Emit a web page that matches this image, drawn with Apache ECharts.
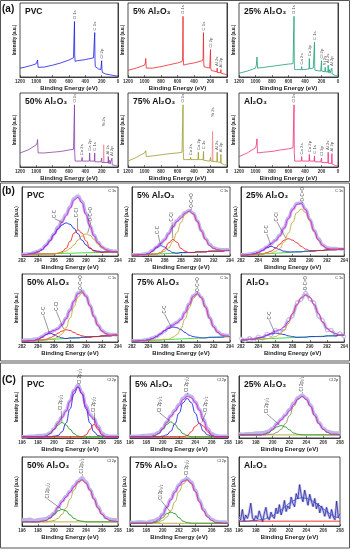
<!DOCTYPE html>
<html><head><meta charset="utf-8">
<script src="https://cdn.jsdelivr.net/npm/echarts@6/dist/echarts.min.js"></script>
<style>html,body{margin:0;padding:0;background:#fff}#chart{width:351px;height:550px}</style>
</head><body><div id="chart"></div>
<script>
// ---------- tick labels ----------
const SURVEY_TICKS = [1200, 1000, 800, 600, 400, 200, 0];
const C1S_TICKS = [282, 284, 286, 288, 290, 292, 294];
const CL2P_TICKS = [196, 198, 200, 202, 204, 206, 208];

// ---------- survey spectra [eV, intensity] ----------
const surveyPVC = [[1200,.12],[1150,.13],[1100,.145],[1050,.16],[1000,.18],[990,.20],[985,.23],[978,.13],[970,.12],[900,.135],[800,.16],[700,.19],[600,.23],[545,.26],[538,.28],[533,.75],[530,.30],[525,.21],[500,.22],[400,.235],[300,.26],[290,.28],[285,.60],[282,.24],[278,.14],[260,.12],[240,.11],[210,.10],[203,.12],[200,.22],[197,.10],[190,.06],[150,.04],[100,.03],[50,.02],[0,.01]];
const survey5 = [[1200,.09],[1100,.12],[1000,.16],[990,.19],[985,.25],[978,.12],[970,.11],[900,.12],[800,.14],[700,.165],[600,.19],[545,.21],[538,.24],[533,.82],[530,.26],[525,.16],[500,.17],[400,.19],[300,.22],[290,.25],[285,.60],[282,.20],[278,.14],[250,.13],[210,.12],[203,.14],[200,.37],[197,.12],[190,.09],[160,.08],[155,.10],[150,.07],[122,.07],[119,.12],[116,.06],[77,.06],[74,.10],[71,.05],[30,.04],[0,.03]];
const survey25 = [[1200,.05],[1100,.08],[1000,.12],[990,.16],[982,.27],[975,.12],[970,.12],[900,.13],[800,.145],[700,.16],[600,.175],[545,.18],[538,.20],[533,.82],[530,.20],[525,.10],[500,.10],[445,.10],[440,.14],[436,.10],[400,.10],[352,.11],[347,.25],[343,.11],[300,.12],[290,.13],[285,.47],[282,.13],[278,.09],[210,.08],[203,.10],[200,.22],[197,.08],[160,.07],[155,.13],[150,.07],[122,.07],[119,.16],[116,.06],[104,.06],[101,.10],[98,.05],[77,.05],[74,.12],[71,.04],[30,.02],[0,.01]];
const survey50 = [[1200,.19],[1100,.23],[1000,.30],[990,.33],[985,.37],[978,.19],[970,.18],[900,.19],[800,.20],[700,.21],[600,.23],[545,.24],[538,.26],[533,.84],[530,.20],[525,.08],[500,.08],[445,.08],[440,.13],[436,.08],[352,.08],[347,.19],[343,.08],[290,.08],[285,.19],[282,.07],[210,.07],[203,.08],[200,.12],[197,.06],[180,.06],[122,.06],[119,.14],[116,.05],[104,.05],[101,.09],[98,.04],[77,.05],[74,.12],[71,.03],[30,.02],[0,.01]];
const pinkPeak50 = [[180,.06],[175,.30],[170,.06]];
const survey75 = [[1200,.08],[1100,.13],[1000,.19],[990,.21],[985,.22],[978,.14],[970,.14],[900,.15],[800,.165],[700,.18],[600,.19],[545,.20],[538,.22],[533,.84],[530,.20],[525,.10],[500,.10],[445,.10],[440,.13],[436,.10],[352,.10],[347,.20],[343,.10],[290,.10],[285,.21],[282,.09],[210,.08],[203,.09],[200,.13],[197,.08],[180,.08],[122,.07],[119,.20],[116,.07],[77,.06],[74,.17],[71,.05],[30,.03],[0,.02]];
const pinkPeak75 = [[180,.08],[175,.48],[170,.08]];
const surveyAl = [[1200,.14],[1100,.19],[1000,.26],[990,.30],[982,.38],[976,.19],[970,.19],[900,.20],[800,.21],[700,.23],[600,.245],[545,.26],[538,.28],[533,.84],[530,.20],[525,.08],[500,.08],[445,.08],[440,.14],[436,.08],[352,.08],[347,.17],[343,.08],[290,.08],[285,.15],[282,.07],[210,.07],[203,.07],[200,.12],[197,.06],[122,.06],[119,.20],[116,.05],[77,.05],[74,.18],[71,.04],[30,.02],[0,.01]];

// survey peak labels [text, eV, intensity]
const peaksPVC = [['O 1s',533,.78],['C 1s',285,.63],['Cl 2p',200,.25]];
const peaks5 = [['O 1s',533,.85],['C 1s',285,.63],['Cl 2p',200,.40],['Al 2s',119,.15],['Al 2p',74,.13]];
const peaks25 = [['O 1s',533,.85],['Ca 2s',440,.17],['Ca 2p',347,.28],['C 1s',285,.50],['Cl 2p',200,.25],['Si 2s',155,.16],['Al 2s',119,.19],['Al 2p',74,.15]];
const peaks50 = [['O 1s',533,.87],['Ca 2s',440,.16],['Ca 2p',347,.22],['C 1s',285,.22],['Si 2s',175,.55],['Al 2s',119,.17],['Al 2p',74,.15]];
const peaks75 = [['O 1s',533,.87],['Ca 2s',440,.16],['Ca 2p',347,.23],['C 1s',285,.24],['Si 2s',175,.68],['Al 2s',119,.23],['Al 2p',74,.20]];
const peaksAl = [['O 1s',533,.87],['Ca 2s',440,.17],['Ca 2p',347,.20],['C 1s',285,.18],['Cl 2p',200,.15],['Al 2s',119,.23],['Al 2p',74,.21]];

// ---------- C 1s high resolution ----------
const X_C1S = [282,282.5,283,283.5,284,284.5,285,285.5,286,286.5,287,287.5,288,288.5,289,289.5,290,290.5,291,291.5,292,292.5,293,293.5,294];
const c1PVC_raw = [.02,.03,.03,.05,.07,.10,.16,.23,.32,.42,.51,.60,.71,.83,.87,.79,.62,.44,.30,.20,.13,.10,.08,.07,.07];
const c1PVC_fit = [.02,.02,.03,.04,.06,.09,.15,.22,.31,.40,.49,.58,.69,.81,.85,.77,.60,.43,.29,.19,.13,.09,.07,.06,.06];
const c1PVC_CC  = [.02,.02,.03,.04,.06,.09,.15,.22,.31,.39,.45,.48,.46,.40,.32,.23,.16,.11,.08,.07,.06,.06,.06,.06,.06];
const c1PVC_CCl = [.02,.02,.02,.03,.03,.03,.03,.03,.03,.04,.06,.11,.21,.33,.38,.33,.22,.12,.07,.06,.05,.06,.06,.06,.06];
const c1PVC_OCO = [.02,.02,.02,.03,.03,.03,.03,.03,.03,.04,.05,.07,.11,.16,.23,.29,.32,.30,.24,.17,.12,.09,.07,.06,.06];
const c1PVC_bg = [[282,.02],[294,.06]];
const c1PVC_lab = [['C-C',286.1,.55,287.3,.47],['C-Cl',288.9,.56,288.9,.39],['O-C=O',290.6,.50,290.2,.33]];

const c15_raw = [.02,.02,.02,.03,.04,.08,.13,.18,.24,.33,.43,.51,.57,.63,.66,.62,.51,.37,.25,.17,.12,.10,.09,.09,.09];
const c15_fit = [.01,.01,.02,.02,.03,.07,.13,.18,.23,.32,.42,.50,.55,.62,.65,.61,.50,.36,.24,.15,.11,.09,.08,.08,.08];
const c15_CC  = [.01,.01,.02,.02,.03,.07,.12,.15,.13,.08,.05,.04,.05,.05,.05,.05,.06,.06,.06,.07,.07,.07,.07,.08,.08];
const c15_CCl = [.01,.01,.02,.02,.02,.03,.03,.05,.10,.19,.24,.20,.11,.07,.05,.05,.06,.06,.06,.07,.07,.07,.07,.08,.08];
const c15_OCO = [.01,.01,.02,.02,.02,.03,.03,.04,.07,.12,.21,.34,.49,.60,.65,.61,.50,.36,.24,.15,.11,.09,.08,.08,.08];
const c15_bg = [[282,.01],[294,.08]];
const c15_lab = [['C-C',285.2,.32,285.5,.16],['C-Cl',286.9,.50,287.0,.25],['O-C=O',289.3,.70,289.2,.66]];

const c125_raw = [.02,.02,.03,.04,.06,.09,.13,.18,.23,.30,.41,.55,.68,.76,.77,.68,.53,.37,.25,.16,.12,.11,.11,.10,.10];
const c125_fit = [.01,.01,.02,.03,.05,.08,.13,.18,.22,.29,.40,.54,.67,.75,.76,.67,.52,.36,.23,.15,.11,.10,.10,.10,.10];
const c125_CC  = [.01,.01,.02,.03,.05,.08,.12,.14,.12,.09,.07,.06,.06,.06,.06,.07,.07,.07,.08,.08,.09,.09,.09,.10,.10];
const c125_CCl = [.01,.01,.02,.02,.03,.03,.05,.07,.11,.17,.23,.25,.23,.19,.14,.10,.08,.08,.08,.08,.09,.09,.09,.10,.10];
const c125_OCO = [.01,.01,.02,.02,.03,.03,.04,.04,.07,.11,.20,.33,.49,.63,.68,.63,.51,.35,.23,.15,.11,.10,.10,.10,.10];
const c125_bg = [[282,.01],[294,.10]];
const c125_lab = [['C-C',285.0,.33,285.5,.15],['C-Cl',286.2,.50,287.2,.26],['O-C=O',289.2,.79,289.1,.77]];

const c150_raw = [.02,.03,.03,.04,.05,.08,.12,.14,.17,.20,.26,.35,.47,.60,.72,.75,.68,.54,.38,.25,.17,.13,.11,.11,.10];
const c150_fit = [.01,.01,.02,.02,.04,.07,.11,.15,.17,.19,.25,.34,.46,.60,.71,.74,.67,.53,.37,.24,.16,.12,.10,.10,.10];
const c150_CC  = [.01,.01,.02,.02,.04,.07,.11,.13,.11,.08,.06,.05,.06,.06,.06,.07,.07,.07,.08,.08,.09,.09,.09,.10,.10];
const c150_CCl = [.01,.01,.02,.02,.03,.03,.04,.06,.09,.13,.16,.18,.17,.14,.11,.09,.08,.08,.08,.08,.09,.09,.09,.10,.10];
const c150_OCO = [.01,.01,.02,.02,.03,.03,.03,.04,.05,.07,.12,.21,.35,.52,.66,.72,.67,.53,.37,.24,.16,.12,.10,.10,.10];
const c150_bg = [[282,.01],[294,.10]];
const c150_lab = [['C-C',284.7,.40,285.4,.14],['C-Cl',286.3,.46,287.2,.19],['O-C=O',289.4,.77,289.4,.75]];

const c175_raw = [.02,.02,.02,.03,.04,.06,.08,.12,.16,.22,.25,.29,.34,.44,.56,.68,.72,.66,.52,.36,.23,.15,.11,.10,.09];
const c175_fit = [.01,.01,.02,.02,.03,.05,.08,.12,.17,.21,.25,.28,.33,.43,.55,.67,.71,.65,.51,.35,.22,.14,.10,.09,.08];
const c175_CC  = [.01,.01,.02,.02,.03,.05,.08,.12,.17,.20,.22,.21,.18,.14,.10,.08,.07,.06,.06,.07,.07,.07,.07,.08,.08];
const c175_OCO = [.01,.01,.02,.02,.02,.03,.03,.03,.04,.04,.07,.11,.20,.34,.50,.64,.70,.65,.51,.35,.22,.14,.10,.08,.08];
const c175_bg = [[282,.01],[294,.08]];
const c175_lab = [['C-C',286.0,.42,286.8,.22],['O-C=O',290.0,.74,290.0,.72]];

const c1Al_raw = [.05,.02,.06,.03,.08,.05,.12,.10,.18,.15,.20,.33,.38,.58,.62,.73,.63,.58,.38,.32,.17,.18,.10,.13,.08];
const c1Al_fit = [.03,.03,.04,.04,.06,.07,.10,.13,.16,.18,.22,.30,.42,.55,.65,.69,.66,.55,.42,.29,.20,.15,.12,.10,.10];
const c1Al_CC  = [.03,.03,.04,.04,.06,.07,.10,.12,.13,.12,.11,.09,.08,.07,.07,.07,.08,.08,.08,.08,.09,.09,.09,.10,.10];
const c1Al_OCO = [.03,.03,.04,.04,.04,.04,.05,.06,.08,.11,.17,.27,.40,.54,.65,.69,.66,.55,.42,.29,.20,.15,.12,.10,.10];
const c1Al_bg = [[282,.03],[294,.10]];
const c1Al_lab = [['C-C',285.3,.33,285.9,.14],['O-C=O',289.5,.76,289.5,.74]];

// ---------- Cl 2p high resolution ----------
const X_CL2P = [196,196.5,197,197.5,198,198.5,199,199.5,200,200.5,201,201.5,202,202.5,203,203.5,204,204.5,205,205.5,206,206.5,207,207.5,208];
const clPVC_raw   = [.02,.02,.03,.03,.04,.04,.05,.08,.15,.25,.34,.44,.60,.77,.85,.74,.52,.38,.31,.19,.08,.04,.03,.03,.03];
const clPVC_fit   = [.02,.02,.02,.02,.02,.02,.03,.07,.14,.24,.33,.43,.59,.76,.83,.72,.50,.36,.30,.17,.05,.02,.02,.02,.02];
const clPVC_blue  = [.02,.02,.02,.02,.02,.02,.02,.02,.03,.04,.10,.24,.47,.71,.82,.71,.47,.24,.10,.04,.03,.02,.02,.02,.02];
const clPVC_green = [.02,.02,.02,.02,.02,.02,.03,.07,.14,.21,.25,.21,.14,.07,.03,.02,.02,.02,.02,.02,.02,.02,.02,.02,.02];
const clPVC_red   = [.02,.02,.02,.02,.02,.02,.02,.02,.02,.02,.02,.02,.02,.02,.02,.02,.05,.14,.22,.14,.05,.02,.02,.02,.02];
const clPVC_bg = [[196,.02],[208,.02]];
const clPVC_lab = [['Cl 2p₃/₂',200.9,.45,201.0,.26],['Cl 2p₃/₂',203.2,.87,203.1,.85],['Cl 2p₁/₂',205.0,.42,205.0,.23]];

const cl5_raw   = [.03,.03,.03,.04,.04,.05,.06,.09,.16,.26,.36,.45,.54,.64,.70,.67,.58,.46,.30,.15,.07,.04,.03,.03,.03];
const cl5_fit   = [.02,.02,.02,.02,.02,.02,.04,.07,.15,.25,.35,.43,.52,.62,.67,.65,.57,.45,.28,.13,.05,.02,.02,.02,.02];
const cl5_blue  = [.02,.02,.02,.02,.02,.02,.02,.02,.03,.05,.11,.23,.40,.57,.64,.57,.40,.23,.11,.05,.03,.02,.02,.02,.02];
const cl5_green = [.02,.02,.02,.02,.02,.02,.04,.07,.14,.22,.26,.22,.14,.07,.04,.02,.02,.02,.02,.02,.02,.02,.02,.02,.02];
const cl5_red   = [.02,.02,.02,.02,.02,.02,.02,.02,.02,.02,.02,.02,.02,.02,.04,.10,.19,.24,.19,.10,.04,.02,.02,.02,.02];
const cl5_bg = [[196,.02],[208,.02]];
const cl5_lab = [['Cl 2p₃/₂',199.6,.42,200.9,.27],['Cl 2p₁/₂',203.0,.74,203.0,.71],['Cl 2p₃/₂',205.3,.42,204.8,.25]];

const cl25_raw   = [.07,.06,.07,.07,.08,.08,.09,.11,.16,.23,.30,.37,.46,.56,.65,.69,.64,.53,.38,.25,.16,.11,.09,.08,.08];
const cl25_fit   = [.05,.05,.05,.05,.05,.05,.06,.09,.14,.22,.29,.36,.44,.54,.63,.67,.62,.51,.36,.23,.14,.09,.06,.06,.05];
const cl25_main  = [.05,.05,.05,.05,.05,.05,.05,.06,.06,.09,.14,.23,.36,.51,.62,.67,.62,.51,.36,.23,.14,.09,.06,.06,.05];
const cl25_green = [.05,.05,.05,.05,.05,.05,.06,.08,.13,.18,.20,.18,.13,.08,.06,.05,.05,.05,.05,.05,.05,.05,.05,.05,.05];
const cl25_bg = [[196,.05],[208,.05]];
const cl25_lab = [['Cl 2p₃/₂',199.3,.40,200.8,.21],['Cl 2p₁/₂',203.5,.75,203.5,.72]];

const cl50_raw   = [.10,.09,.10,.08,.09,.10,.11,.14,.19,.27,.36,.43,.50,.58,.65,.70,.64,.53,.40,.28,.18,.12,.10,.09,.09];
const cl50_fit   = [.06,.06,.06,.06,.06,.07,.08,.12,.18,.27,.35,.42,.49,.57,.64,.67,.62,.52,.39,.26,.17,.11,.08,.07,.06];
const cl50_main  = [.06,.06,.06,.06,.06,.06,.06,.07,.08,.11,.17,.26,.39,.52,.62,.66,.62,.52,.39,.26,.17,.11,.08,.07,.06];
const cl50_green = [.06,.06,.06,.06,.06,.07,.08,.11,.16,.22,.24,.22,.16,.11,.08,.07,.06,.06,.06,.06,.06,.06,.06,.06,.06];
const cl50_bg = [[196,.06],[208,.06]];
const cl50_lab = [['Cl 2p₃/₂',199.2,.40,200.9,.25],['Cl 2p₁/₂',203.5,.76,203.5,.73]];

const cl75_raw   = [.06,.05,.06,.06,.05,.07,.08,.11,.17,.28,.39,.50,.60,.66,.69,.64,.52,.37,.24,.15,.10,.07,.06,.06,.05];
const cl75_fit   = [.04,.04,.04,.04,.04,.04,.06,.09,.16,.27,.38,.49,.58,.65,.67,.62,.50,.35,.22,.13,.08,.05,.05,.04,.04];
const cl75_main  = [.04,.04,.04,.04,.04,.04,.05,.05,.08,.13,.22,.35,.50,.61,.66,.61,.50,.35,.22,.13,.08,.05,.05,.04,.04];
const cl75_green = [.04,.04,.04,.04,.04,.04,.05,.07,.12,.18,.20,.18,.12,.07,.05,.04,.04,.04,.04,.04,.04,.04,.04,.04,.04];
const cl75_bg = [[196,.04],[208,.04]];
const cl75_lab = [['Cl 2p₃/₂',199.8,.38,200.9,.21],['Cl 2p₁/₂',202.9,.74,202.9,.71]];

const X_CL_NOISE = [196,196.2,196.4,196.6,196.8,197,197.2,197.4,197.6,197.8,198,198.2,198.4,198.6,198.8,199,199.2,199.4,199.6,199.8,200,200.2,200.4,200.6,200.8,201,201.2,201.4,201.6,201.8,202,202.2,202.4,202.6,202.8,203,203.2,203.4,203.6,203.8,204,204.2,204.4,204.6,204.8,205,205.2,205.4,205.6,205.8,206,206.2,206.4,206.6,206.8,207,207.2,207.4,207.6,207.8,208];
const clAl_raw = [.12,.09,.24,.07,.16,.11,.19,.33,.12,.08,.15,.10,.22,.14,.06,.18,.27,.12,.09,.20,.14,.11,.26,.18,.31,.16,.24,.37,.21,.29,.25,.42,.33,.28,.47,.39,.60,.44,.35,.52,.41,.30,.46,.36,.28,.40,.25,.33,.19,.29,.22,.14,.27,.17,.11,.24,.13,.09,.36,.12,.18];
const clAl_fit = [.07,.07,.07,.08,.08,.09,.10,.12,.15,.19,.23,.28,.33,.37,.40,.41,.40,.38,.34,.30,.25,.20,.16,.13,.11];
const clAl_bg = [[196,.07],[208,.07]];

// ---------- layout (code-side) ----------
const FONT = 'Liberation Sans, Arial, sans-serif';
const LAYOUT = {
  a:{lefts:[20,128,239],widths:[98,99,99],tops:[3,93],heights:[74,74]},
  b:{lefts:[22,132,241],widths:[96,98,104],tops:[187,274],heights:[69,68]},
  c:{lefts:[22,130,239],widths:[96,98,101],tops:[376,457],heights:[62,69]}
};
const COL = {raw:'#bdb6ea', fit:'#e020e0', blue:'#2323e6', red:'#f21d1d', olive:'#c4aa30', lime:'#2ee02e', green:'#1e9a1e', khaki:'#b5a53a', grey:'#8f8f62'};
const zip = (X, Y) => X.map((x, i) => [x, Y[i]]);

const panels = [
  {sec:'a',row:0,col:0,kind:'survey',title:'PVC',data:surveyPVC,color:'#1c1ce6',labels:peaksPVC},
  {sec:'a',row:0,col:1,kind:'survey',title:'5% Al₂O₃',data:survey5,color:'#e8262b',labels:peaks5},
  {sec:'a',row:0,col:2,kind:'survey',title:'25% Al₂O₃',data:survey25,color:'#1f9e78',labels:peaks25},
  {sec:'a',row:1,col:0,kind:'survey',title:'50% Al₂O₃',data:survey50,color:'#8b3fa8',labels:peaks50,extra:pinkPeak50},
  {sec:'a',row:1,col:1,kind:'survey',title:'75% Al₂O₃',data:survey75,color:'#9e9a2a',labels:peaks75,extra:pinkPeak75},
  {sec:'a',row:1,col:2,kind:'survey',title:'Al₂O₃',data:surveyAl,color:'#f0307f',labels:peaksAl},
  {sec:'b',row:0,col:0,kind:'c1s',title:'PVC',X:X_C1S,raw:c1PVC_raw,fit:c1PVC_fit,comps:[[c1PVC_CC,COL.blue],[c1PVC_CCl,COL.red],[c1PVC_OCO,COL.olive]],bg:c1PVC_bg,bgColor:COL.lime,labels:c1PVC_lab},
  {sec:'b',row:0,col:1,kind:'c1s',title:'5% Al₂O₃',X:X_C1S,raw:c15_raw,fit:c15_fit,comps:[[c15_CC,COL.blue],[c15_CCl,COL.red],[c15_OCO,COL.olive]],bg:c15_bg,bgColor:COL.lime,labels:c15_lab},
  {sec:'b',row:0,col:2,kind:'c1s',title:'25% Al₂O₃',X:X_C1S,raw:c125_raw,fit:c125_fit,comps:[[c125_CC,COL.blue],[c125_CCl,COL.red],[c125_OCO,COL.olive]],bg:c125_bg,bgColor:COL.lime,labels:c125_lab},
  {sec:'b',row:1,col:0,kind:'c1s',title:'50% Al₂O₃',X:X_C1S,raw:c150_raw,fit:c150_fit,comps:[[c150_CC,COL.blue],[c150_CCl,COL.red],[c150_OCO,COL.olive]],bg:c150_bg,bgColor:COL.lime,labels:c150_lab},
  {sec:'b',row:1,col:1,kind:'c1s',title:'75% Al₂O₃',X:X_C1S,raw:c175_raw,fit:c175_fit,comps:[[c175_CC,COL.blue],[c175_OCO,COL.olive]],bg:c175_bg,bgColor:COL.lime,labels:c175_lab},
  {sec:'b',row:1,col:2,kind:'c1s',title:'Al₂O₃',X:X_C1S,raw:c1Al_raw,rawDots:true,fit:c1Al_fit,comps:[[c1Al_CC,COL.blue],[c1Al_OCO,COL.olive]],bg:c1Al_bg,bgColor:COL.lime,labels:c1Al_lab},
  {sec:'c',row:0,col:0,kind:'cl2p',title:'PVC',X:X_CL2P,raw:clPVC_raw,fit:clPVC_fit,comps:[[clPVC_blue,COL.blue],[clPVC_green,COL.green],[clPVC_red,COL.red]],bg:clPVC_bg,bgColor:COL.khaki,labels:clPVC_lab},
  {sec:'c',row:0,col:1,kind:'cl2p',title:'5% Al₂O₃',X:X_CL2P,raw:cl5_raw,fit:cl5_fit,comps:[[cl5_blue,COL.blue],[cl5_green,COL.green],[cl5_red,COL.red]],bg:cl5_bg,bgColor:COL.khaki,labels:cl5_lab},
  {sec:'c',row:0,col:2,kind:'cl2p',title:'25% Al₂O₃',X:X_CL2P,raw:cl25_raw,fit:cl25_fit,comps:[[cl25_main,COL.grey],[cl25_green,COL.green]],bg:cl25_bg,bgColor:COL.khaki,labels:cl25_lab},
  {sec:'c',row:1,col:0,kind:'cl2p',title:'50% Al₂O₃',X:X_CL2P,raw:cl50_raw,fit:cl50_fit,comps:[[cl50_main,COL.khaki],[cl50_green,COL.green]],bg:cl50_bg,bgColor:COL.khaki,labels:cl50_lab},
  {sec:'c',row:1,col:1,kind:'cl2p',title:'75% Al₂O₃',X:X_CL2P,raw:cl75_raw,fit:cl75_fit,comps:[[cl75_main,COL.khaki],[cl75_green,COL.green]],bg:cl75_bg,bgColor:COL.khaki,labels:cl75_lab},
  {sec:'c',row:1,col:2,kind:'noisy',title:'Al₂O₃',X:X_CL2P},
];

const grids = [], xAxes = [], yAxes = [], series = [], graphics = [];

function lineSeries(gi, data, color, width, smooth, z) {
  return {type:'line', xAxisIndex:gi, yAxisIndex:gi, data, symbol:'none', smooth: smooth ? 0.5 : false,
    smoothMonotone:'x', lineStyle:{color, width}, z, silent:true, animation:false};
}
function labelSeries(gi, labels, fontSize) {
  const leaders = labels.filter(l => l.length > 3).map(l => [{coord:[l[1], l[2] - 0.01]}, {coord:[l[3], l[4]]}]);
  return {type:'scatter', xAxisIndex:gi, yAxisIndex:gi, symbolSize:0, z:10, silent:true, animation:false,
    data: labels.map(l => [l[1], l[2], l[0]]),
    label:{show:true, position:'inside', align:'left', verticalAlign:'middle', rotate:90, fontSize, fontFamily:FONT,
      color:'#222', formatter: p => p.value[2]},
    markLine: leaders.length ? {silent:true, symbol:['none','none'], label:{show:false}, animation:false,
      lineStyle:{color:'#333', width:0.5, type:'solid'}, data: leaders} : undefined};
}

panels.forEach((p, gi) => {
  const L = LAYOUT[p.sec];
  const left = L.lefts[p.col], top = L.tops[p.row], width = L.widths[p.col], height = L.heights[p.row];
  grids.push({left, top, width, height, show:true, borderColor:'#222', borderWidth:0.8, backgroundColor:'transparent'});
  const ticks = p.kind === 'survey' ? SURVEY_TICKS : (p.kind === 'c1s' ? C1S_TICKS : CL2P_TICKS);
  const tmin = Math.min(...ticks), tmax = Math.max(...ticks);
  xAxes.push({gridIndex:gi, type:'value', min:tmin, max:tmax, interval:Math.abs(ticks[1]-ticks[0]),
    inverse: p.kind === 'survey',
    axisLine:{show:true, onZero:false, lineStyle:{color:'#222', width:0.8}},
    axisTick:{show:true, inside:true, length:2, lineStyle:{color:'#222', width:0.6}},
    axisLabel:{fontSize:4.5, margin:2.5, color:'#333', fontWeight:'bold', fontFamily:FONT, formatter: v => String(v)},
    splitLine:{show:false},
    name:'Binding Energy (eV)', nameLocation:'middle', nameGap:8,
    nameTextStyle:{fontSize:6, fontWeight:'bold', color:'#222', fontFamily:FONT}});
  yAxes.push({gridIndex:gi, type:'value', min:0, max:1,
    axisLine:{show:true, lineStyle:{color:'#222', width:0.8}}, axisTick:{show:false}, axisLabel:{show:false}, splitLine:{show:false},
    name:'Intensity (a.u.)', nameLocation:'middle', nameGap:3,
    nameTextStyle:{fontSize:4.5, fontWeight:'bold', color:'#222', fontFamily:FONT}});

  if (p.kind === 'survey') {
    series.push(lineSeries(gi, p.data, p.color, 0.8, false, 3));
    if (p.extra) series.push(lineSeries(gi, p.extra, '#f08a8a', 0.8, false, 2));
    series.push(labelSeries(gi, p.labels.map(l => [l[0], l[1], l[2]]), 4.2));
  } else if (p.kind === 'noisy') {
    series.push(lineSeries(gi, zip(X_CL_NOISE, clAl_raw), '#c3bfef', 2.6, false, 1));
    series.push(lineSeries(gi, zip(X_CL_NOISE, clAl_raw), '#1a1a8c', 0.7, false, 2));
    series.push(lineSeries(gi, clAl_bg, COL.red, 0.9, false, 3));
    series.push(lineSeries(gi, zip(X_CL2P, clAl_fit), '#3050d0', 0.9, true, 4));
  } else {
    series.push(lineSeries(gi, zip(p.X, p.raw), COL.raw, 3.4, !p.rawDots, 1));
    if (p.rawDots) {
      const s = lineSeries(gi, zip(p.X, p.raw), COL.raw, 0, false, 1);
      s.symbol = 'circle'; s.showSymbol = true; s.symbolSize = 3;
      s.itemStyle = {color:'#fff', borderColor:COL.raw, borderWidth:1};
      series.push(s);
    }
    series.push(lineSeries(gi, p.bg, p.bgColor, 0.9, false, 2));
    p.comps.forEach(([ys, c]) => series.push(lineSeries(gi, zip(p.X, ys), c, 0.9, true, 3)));
    series.push(lineSeries(gi, zip(p.X, p.fit), COL.fit, 0.9, true, 4));
    series.push(labelSeries(gi, p.labels, 4.5));
    graphics.push({type:'text', x:left + width - 2, y:top + 2, z:20,
      style:{text: p.kind === 'c1s' ? 'C 1s' : 'Cl 2p', align:'right', verticalAlign:'top', fontSize:3.8,
        fontFamily:FONT, fill:'#222'}});
  }
  graphics.push({type:'text', x:left + 5, y:top + 4, z:20,
    style:{text:p.title, fontSize:8.5, fontWeight:'bold', fontFamily:FONT, fill:'#111', align:'left', verticalAlign:'top'}});
});

// section frames and letters
[[0.5,0.5,349,181],[0.5,183,349,178],[0.5,363,349,185]].forEach(r => graphics.push({type:'rect', z:0,
  shape:{x:r[0], y:r[1], width:r[2], height:r[3]}, style:{fill:'none', stroke:'#555', lineWidth:1}}));
[['(a)',2,4],['(b)',2,186],['(C)',2,375]].forEach(t => graphics.push({type:'text', x:t[1], y:t[2], z:20,
  style:{text:t[0], fontSize:10, fontWeight:'bold', fontFamily:FONT, fill:'#111', align:'left', verticalAlign:'top'}}));

const chart = echarts.init(document.getElementById('chart'), null, {renderer:'canvas'});
chart.setOption({animation:false, backgroundColor:'#fff', grid:grids, xAxis:xAxes, yAxis:yAxes, series, graphic:graphics});
</script></body></html>
